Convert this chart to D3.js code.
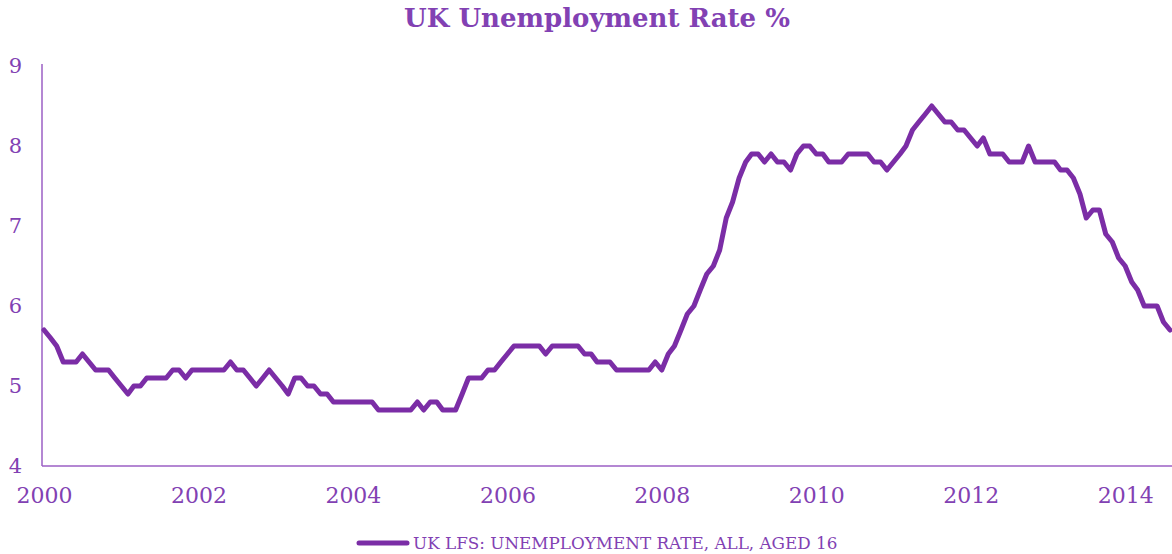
<!DOCTYPE html>
<html>
<head>
<meta charset="utf-8">
<script src="https://cdn.jsdelivr.net/npm/d3@7"></script>
<style>
    body { margin: 0; background: #fff; }
    svg text { font-family: 'DejaVu Serif', 'Liberation Serif', serif; fill: #8241b3; }
    .axis path { stroke: #9b5fc5; stroke-width: 1.5; }
</style>
</head>
<body>
<svg id="chart"></svg>
<script>
// monthly series, Jan 2000 .. Aug 2014
const startYear = 2000;
const rates = [
    5.7, 5.6, 5.5, 5.3, 5.3, 5.3, 5.4, 5.3, 5.2, 5.2, 5.2, 5.1,   // 2000
    5.0, 4.9, 5.0, 5.0, 5.1, 5.1, 5.1, 5.1, 5.2, 5.2, 5.1, 5.2,   // 2001
    5.2, 5.2, 5.2, 5.2, 5.2, 5.3, 5.2, 5.2, 5.1, 5.0, 5.1, 5.2,   // 2002
    5.1, 5.0, 4.9, 5.1, 5.1, 5.0, 5.0, 4.9, 4.9, 4.8, 4.8, 4.8,   // 2003
    4.8, 4.8, 4.8, 4.8, 4.7, 4.7, 4.7, 4.7, 4.7, 4.7, 4.8, 4.7,   // 2004
    4.8, 4.8, 4.7, 4.7, 4.7, 4.9, 5.1, 5.1, 5.1, 5.2, 5.2, 5.3,   // 2005
    5.4, 5.5, 5.5, 5.5, 5.5, 5.5, 5.4, 5.5, 5.5, 5.5, 5.5, 5.5,   // 2006
    5.4, 5.4, 5.3, 5.3, 5.3, 5.2, 5.2, 5.2, 5.2, 5.2, 5.2, 5.3,   // 2007
    5.2, 5.4, 5.5, 5.7, 5.9, 6.0, 6.2, 6.4, 6.5, 6.7, 7.1, 7.3,   // 2008
    7.6, 7.8, 7.9, 7.9, 7.8, 7.9, 7.8, 7.8, 7.7, 7.9, 8.0, 8.0,   // 2009
    7.9, 7.9, 7.8, 7.8, 7.8, 7.9, 7.9, 7.9, 7.9, 7.8, 7.8, 7.7,   // 2010
    7.8, 7.9, 8.0, 8.2, 8.3, 8.4, 8.5, 8.4, 8.3, 8.3, 8.2, 8.2,   // 2011
    8.1, 8.0, 8.1, 7.9, 7.9, 7.9, 7.8, 7.8, 7.8, 8.0, 7.8, 7.8,   // 2012
    7.8, 7.8, 7.7, 7.7, 7.6, 7.4, 7.1, 7.2, 7.2, 6.9, 6.8, 6.6,   // 2013
    6.5, 6.3, 6.2, 6.0, 6.0, 6.0, 5.8, 5.7                        // 2014
];
const yearTicks = [2000, 2002, 2004, 2006, 2008, 2010, 2012, 2014];
const rateTicks = [4, 5, 6, 7, 8, 9];
const chartTitle = 'UK Unemployment Rate %';
const seriesName = 'UK LFS: UNEMPLOYMENT RATE, ALL, AGED 16';

const width = 1172;
const height = 554;
const lineColor = '#7b2da6';

const svg = d3.select('#chart')
    .attr('width', width)
    .attr('height', height);

const data = rates.map((v, i) => ({
    date: new Date(startYear, i, 1),
    value: v
}));

const x = d3.scaleTime()
    .domain([data[0].date, data[data.length - 1].date])
    .range([44, 1170]);

const y = d3.scaleLinear()
    .domain([4, 9])
    .range([466, 66]);

// title
svg.append('text')
    .attr('x', 597)
    .attr('y', 27)
    .attr('text-anchor', 'middle')
    .style('font-size', '26px')
    .style('font-weight', 'bold')
    .text(chartTitle)
;

// y axis
const yAxis = svg.append('g')
    .attr('class', 'axis')
    .attr('transform', 'translate(42,0)')
    .call(d3.axisLeft(y)
        .tickValues(rateTicks)
        .tickSize(0)
        .tickPadding(20)
        .tickFormat(d3.format('d')))
;
yAxis.select('.domain').attr('d', 'M0,64V466');
yAxis.selectAll('text')
    .style('font-size', '21px')
    .attr('fill', null)
;

// x axis, line runs to the right edge
const xAxis = svg.append('g')
    .attr('class', 'axis')
    .attr('transform', 'translate(0,466)')
    .call(d3.axisBottom(x)
        .tickValues(yearTicks.map(yr => new Date(yr, 0, 1)))
        .tickSize(0)
        .tickPadding(21)
        .tickFormat(d3.timeFormat('%Y')))
;
xAxis.select('.domain').attr('d', 'M42,0H1172');
xAxis.selectAll('text')
    .style('font-size', '22px')
    .attr('fill', null)
;

// series line
const line = d3.line()
    .x(d => x(d.date))
    .y(d => y(d.value));

svg.append('path')
    .datum(data)
    .attr('d', line)
    .attr('fill', 'none')
    .attr('stroke', lineColor)
    .attr('stroke-width', 5)
    .attr('stroke-linejoin', 'round')
    .attr('stroke-linecap', 'round')
;

// legend
const legend = svg.append('g').attr('class', 'legend');
legend.append('line')
    .attr('x1', 359)
    .attr('x2', 407)
    .attr('y1', 543)
    .attr('y2', 543)
    .attr('stroke', lineColor)
    .attr('stroke-width', 5)
    .attr('stroke-linecap', 'round')
;
legend.append('text')
    .attr('x', 413)
    .attr('y', 549)
    .style('font-size', '16.8px')
    .text(seriesName)
;
</script>
</body>
</html>
